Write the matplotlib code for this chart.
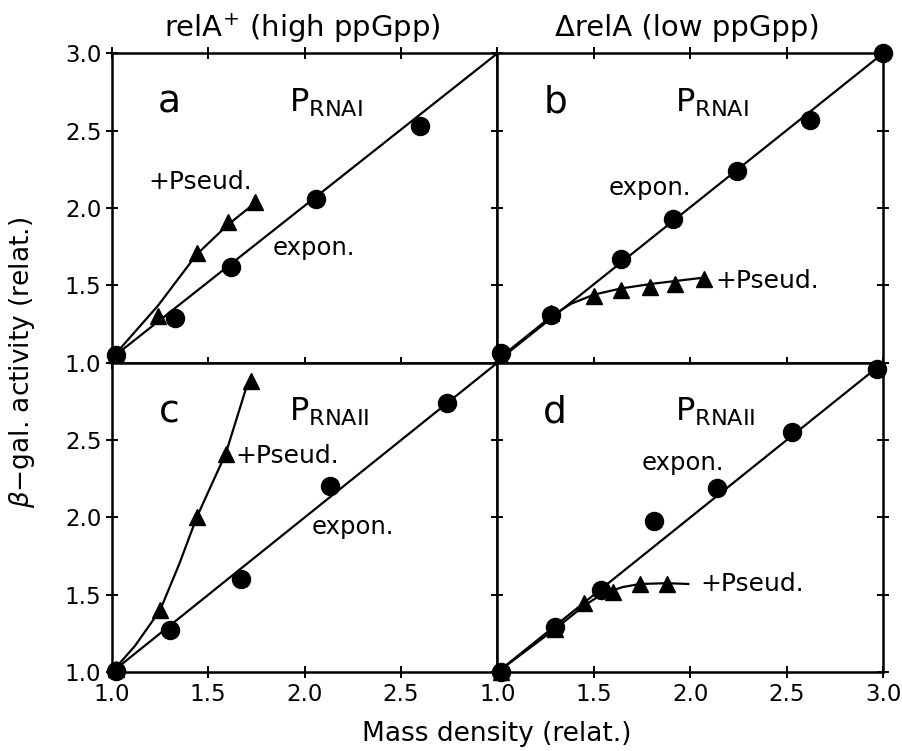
import matplotlib
matplotlib.use("Agg")
import matplotlib.pyplot as plt

plt.rcParams['font.family'] = ['DejaVu Sans']
plt.rcParams['mathtext.fontset'] = 'dejavusans'

# panel a: relA+, P_RNAI
a_exp_x = [1.02, 1.33, 1.62, 2.06, 2.60]
a_exp_y = [1.05, 1.29, 1.62, 2.06, 2.53]
a_ps_x = [1.02, 1.24, 1.44, 1.60, 1.74]
a_ps_y = [1.05, 1.30, 1.71, 1.91, 2.04]
a_fit_exp_x = [1.0, 3.0]
a_fit_exp_y = [1.03, 3.0]
a_fit_ps_x = [1.0, 1.24, 1.44, 1.60, 1.74]
a_fit_ps_y = [1.03, 1.37, 1.70, 1.89, 2.03]

# panel b: delta relA, P_RNAI
b_exp_x = [1.02, 1.28, 1.64, 1.91, 2.24, 2.62, 3.0]
b_exp_y = [1.06, 1.31, 1.67, 1.93, 2.24, 2.57, 3.0]
b_ps_x = [1.02, 1.28, 1.50, 1.64, 1.79, 1.92, 2.07]
b_ps_y = [1.04, 1.32, 1.43, 1.47, 1.49, 1.51, 1.54]
b_fit_exp_x = [1.0, 3.0]
b_fit_exp_y = [1.01, 3.0]
b_fit_ps_x = [1.0, 1.28, 1.38, 1.50, 1.64, 1.80, 2.07]
b_fit_ps_y = [1.02, 1.30, 1.38, 1.44, 1.48, 1.51, 1.55]

# panel c: relA+, P_RNAII
c_exp_x = [1.02, 1.30, 1.67, 2.13, 2.74]
c_exp_y = [1.01, 1.27, 1.60, 2.20, 2.74]
c_ps_x = [1.02, 1.25, 1.44, 1.59, 1.72]
c_ps_y = [1.02, 1.40, 2.00, 2.41, 2.88]
c_fit_exp_x = [1.0, 3.0]
c_fit_exp_y = [1.0, 3.0]
c_fit_ps_x = [1.0, 1.12, 1.25, 1.35, 1.44, 1.52, 1.59, 1.70]
c_fit_ps_y = [1.0, 1.17, 1.40, 1.70, 2.00, 2.22, 2.41, 2.85]

# panel d: delta relA, P_RNAII
d_exp_x = [1.02, 1.30, 1.535, 1.81, 2.14, 2.53, 2.97]
d_exp_y = [1.00, 1.29, 1.53, 1.98, 2.19, 2.55, 2.96]
d_ps_x = [1.02, 1.30, 1.45, 1.60, 1.74, 1.88]
d_ps_y = [1.00, 1.28, 1.45, 1.52, 1.57, 1.57]
d_fit_exp_x = [1.0, 3.0]
d_fit_exp_y = [1.0, 3.0]
d_fit_ps_x = [1.0, 1.30, 1.45, 1.55, 1.65, 1.74, 1.88, 1.99]
d_fit_ps_y = [1.0, 1.28, 1.43, 1.51, 1.55, 1.57, 1.575, 1.57]

ticks = [1.0, 1.5, 2.0, 2.5, 3.0]

fig = plt.figure(figsize=(9.02, 7.51), dpi=100)
gs = fig.add_gridspec(2, 2, left=0.124, right=0.979, bottom=0.105, top=0.929,
                      wspace=0, hspace=0)
axs = [[fig.add_subplot(gs[r, c]) for c in range(2)] for r in range(2)]

panels = [
    (0, 0, 'a', r'$\mathregular{P_{RNAI}}$', a_exp_x, a_exp_y, a_ps_x, a_ps_y,
     a_fit_exp_x, a_fit_exp_y, a_fit_ps_x, a_fit_ps_y,
     (1.46, 2.17, 'center'), (2.05, 1.74, 'center')),
    (0, 1, 'b', r'$\mathregular{P_{RNAI}}$', b_exp_x, b_exp_y, b_ps_x, b_ps_y,
     b_fit_exp_x, b_fit_exp_y, b_fit_ps_x, b_fit_ps_y,
     (2.13, 1.53, 'left'), (1.79, 2.13, 'center')),
    (1, 0, 'c', r'$\mathregular{P_{RNAII}}$', c_exp_x, c_exp_y, c_ps_x, c_ps_y,
     c_fit_exp_x, c_fit_exp_y, c_fit_ps_x, c_fit_ps_y,
     (1.64, 2.40, 'left'), (2.25, 1.94, 'center')),
    (1, 1, 'd', r'$\mathregular{P_{RNAII}}$', d_exp_x, d_exp_y, d_ps_x, d_ps_y,
     d_fit_exp_x, d_fit_exp_y, d_fit_ps_x, d_fit_ps_y,
     (2.05, 1.57, 'left'), (1.96, 2.35, 'center')),
]

for (r, c, letter, prom, ex, ey, px, py, fex, fey, fpx, fpy, pslab, exlab) in panels:
    ax = axs[r][c]
    ax.plot(fex, fey, color='black', lw=1.6, clip_on=False)
    ax.plot(fpx, fpy, color='black', lw=1.6, clip_on=False)
    ax.plot(ex, ey, 'o', color='black', ms=13, clip_on=False, zorder=3)
    ax.plot(px, py, '^', color='black', ms=11, clip_on=False, zorder=3)
    ax.set_xlim(1.0, 3.0)
    ax.set_ylim(1.0, 3.0)
    ax.set_xticks(ticks)
    ax.set_yticks(ticks)
    for s in ax.spines.values():
        s.set_linewidth(1.8)
    ax.tick_params(direction='inout', length=8, width=1.4, labelsize=16.5,
                   top=(r == 0), right=(c == 1))
    # tick labels only on outer edges
    if r == 0:
        ax.set_xticklabels([])
        ax.set_yticklabels(['1.0', '1.5', '2.0', '2.5', '3.0'])
    else:
        ax.set_xticklabels(['1.0', '1.5', '2.0', '2.5', '3.0' if c == 1 else ''])
        ax.set_yticklabels(['1.0', '1.5', '2.0', '2.5', ''])
    if c == 1:
        ax.set_yticklabels([])
    ax.text(1.30, 2.68, letter, fontsize=27, ha='center', va='center')
    ax.text(1.92, 2.68, prom, fontsize=23, ha='left', va='center')
    ax.text(pslab[0], pslab[1], '+Pseud.', fontsize=18, ha=pslab[2], va='center')
    ax.text(exlab[0], exlab[1], 'expon.', fontsize=17.5, ha=exlab[2], va='center')

fig.text(0.335, 0.963, r'relA$^{+}$ (high ppGpp)', fontsize=21, ha='center', va='center')
fig.text(0.762, 0.963, 'ΔrelA (low ppGpp)', fontsize=21, ha='center', va='center')
fig.text(0.024, 0.518, r'$\beta$−gal. activity (relat.)', fontsize=19,
         rotation=90, ha='center', va='center')
fig.text(0.551, 0.022, 'Mass density (relat.)', fontsize=19, ha='center', va='center')

fig.savefig('out.png', dpi=100)
